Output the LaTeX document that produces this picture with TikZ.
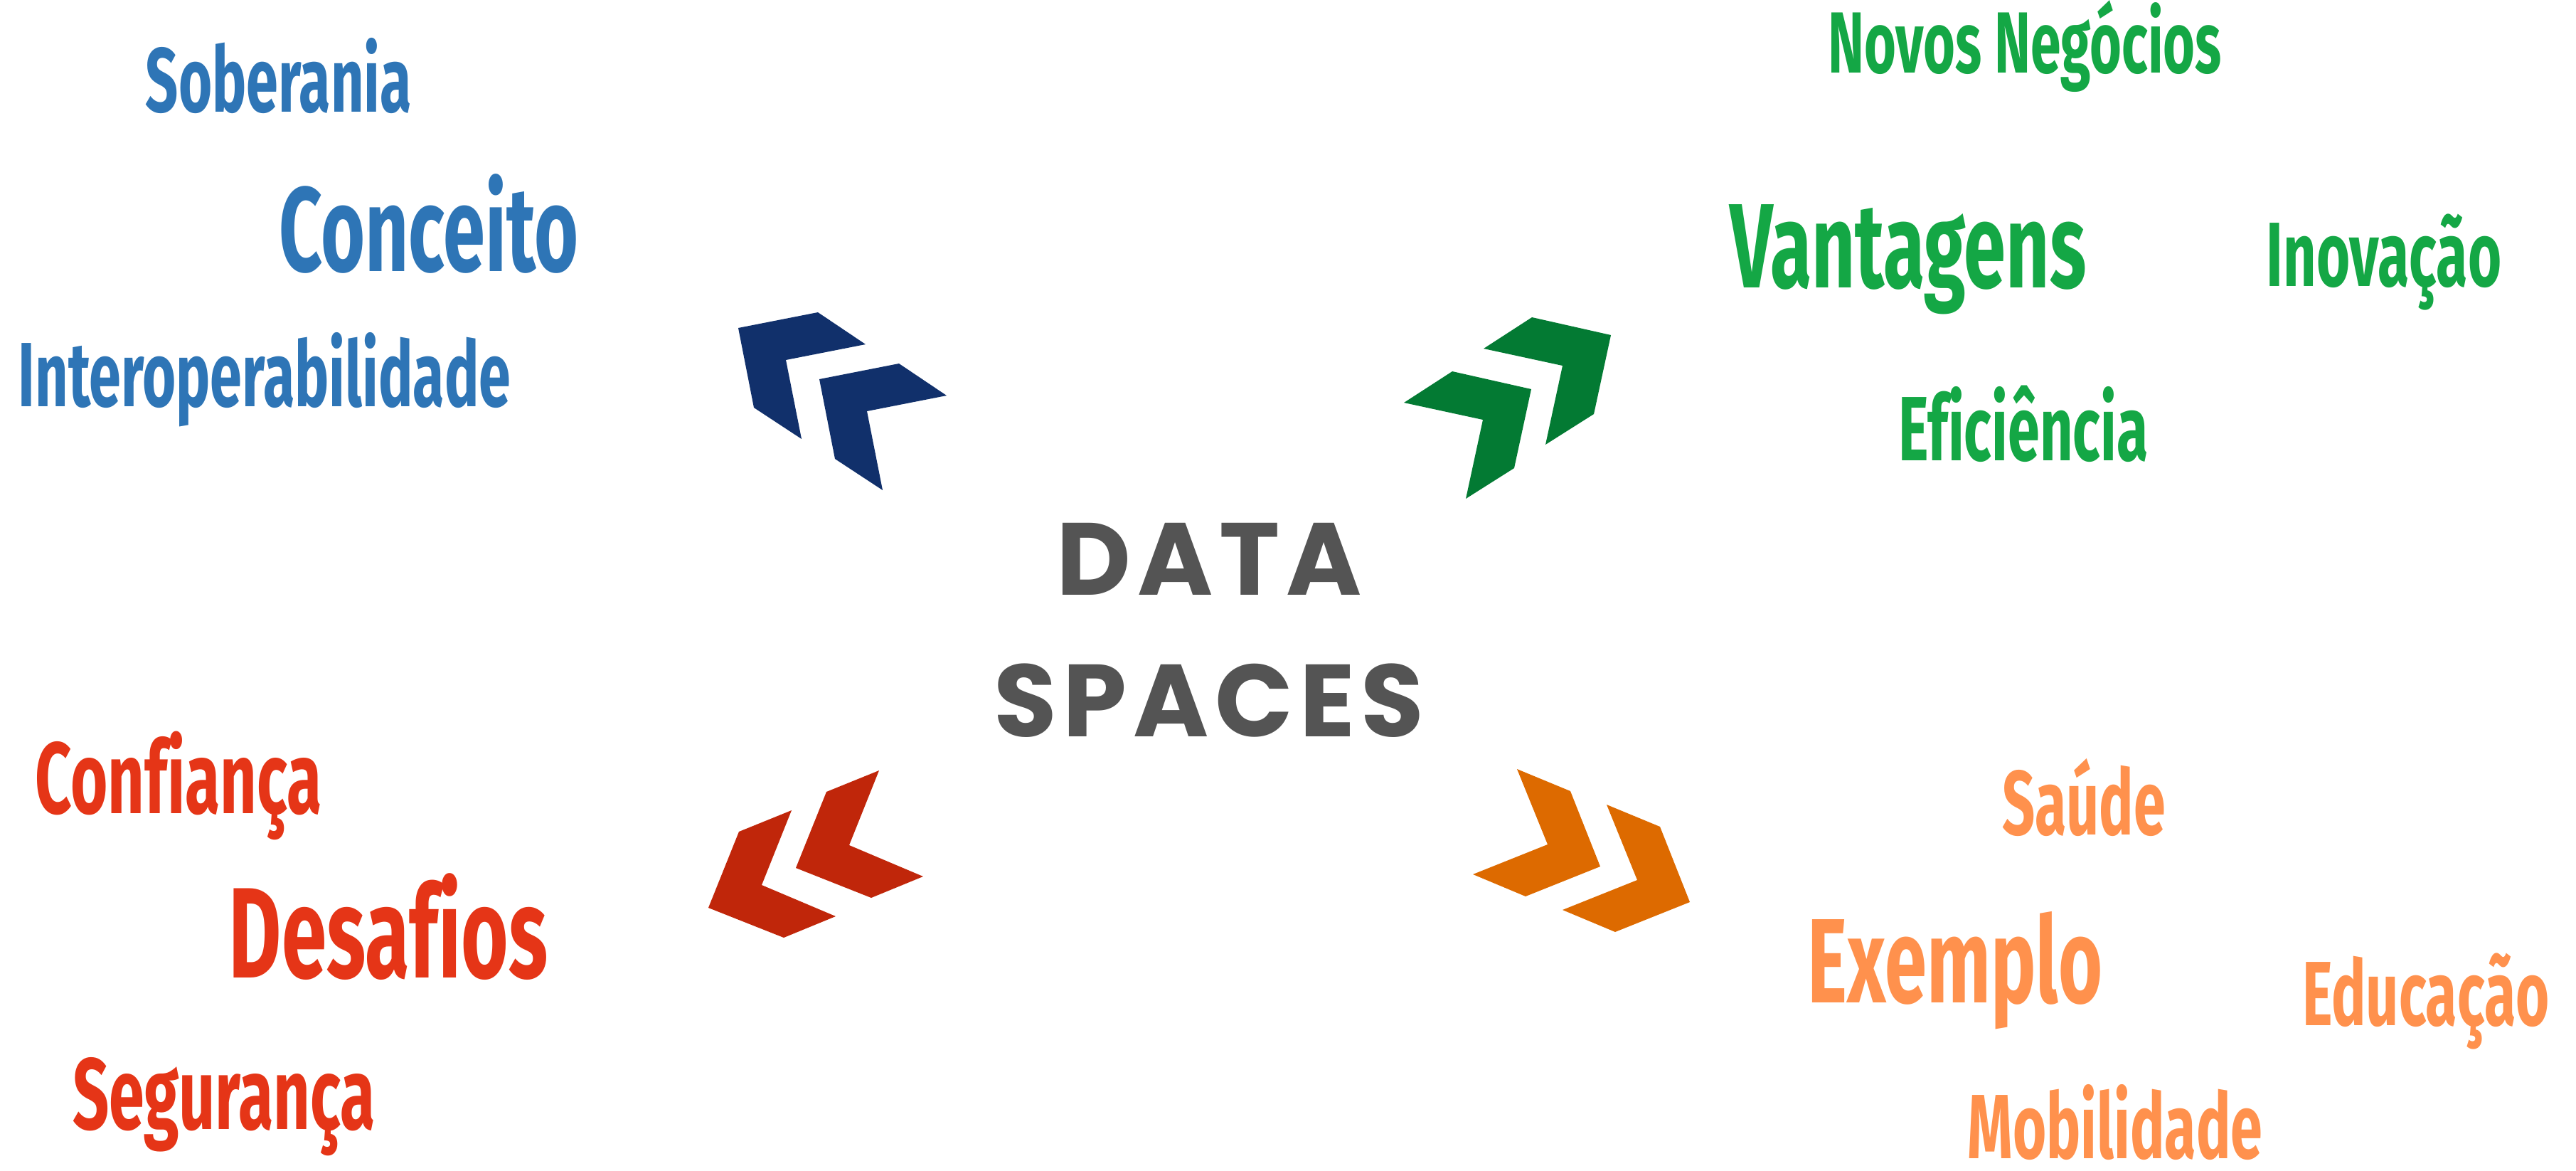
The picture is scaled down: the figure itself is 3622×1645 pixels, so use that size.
\documentclass[tikz,border=0pt]{standalone}
\usepackage{fontspec}
\newfontfamily\wordfont[FakeStretch=0.63,Ligatures=NoCommon]{Fira Sans}
\newfontfamily\titlefont[LetterSpace=6]{Poppins}
\definecolor{txtblue}{HTML}{2E75B6}
\definecolor{txtgreen}{HTML}{14A745}
\definecolor{txtred}{HTML}{E53517}
\definecolor{txtorange}{HTML}{FF914D}
\definecolor{chvblue}{HTML}{11306B}
\definecolor{chvgreen}{HTML}{037A33}
\definecolor{chvred}{HTML}{C0260A}
\definecolor{chvorange}{HTML}{DD6A00}
\definecolor{titlegray}{HTML}{545454}

\begin{document}
\begin{tikzpicture}[x=0.01cm,y=-0.01cm,
   word/.style={anchor=base,inner sep=0pt,font=\wordfont\bfseries\fontsize{36.5}{42}\selectfont},
   bigword/.style={word,font=\wordfont\bfseries\fontsize{48}{56}\selectfont},
   redword/.style={word,font=\wordfont\bfseries\fontsize{40.5}{46}\selectfont},
   title/.style={anchor=base,inner sep=0pt,text=titlegray,font=\titlefont\bfseries\fontsize{41}{48}\selectfont}]
   \useasboundingbox (0,0) rectangle (3622,1645);

   % centre
   \node[title] (data) at (1700,836) {DATA};
   \node[title] (spaces) at (1700,1035) {SPACES};

   % chevrons
   \foreach \d in {0,1} {
      \fill[chvblue,shift={(114*\d,72*\d)}] (1038,461) -- (1150,439) -- (1217,484) -- (1105,506) -- (1127,617) -- (1060,573) -- cycle;
      \fill[chvgreen,shift={(112*\d,-76*\d)}] (1974,566) -- (2042,522) -- (2153,547) -- (2129,658) -- (2061,701) -- (2085,590) -- cycle;
      \fill[chvred,shift={(123*\d,-56*\d)}] (996,1276) -- (1039,1169) -- (1113,1139) -- (1071,1244) -- (1175,1288) -- (1102,1318) -- cycle;
      \fill[chvorange,shift={(126*\d,50*\d)}] (2133,1081) -- (2208,1112) -- (2250,1218) -- (2145,1260) -- (2071,1229) -- (2176,1187) -- cycle;
   }

   % Conceito
   \node[word,text=txtblue] (soberania) at (392,157) {Soberania};
   \node[bigword,text=txtblue] (conceito) at (603,381) {Conceito};
   \node[word,text=txtblue] (interop) at (372,571) {Interoperabilidade};

   % Vantagens
   \node[word,text=txtgreen,font=\wordfont\bfseries\fontsize{34.7}{40}\selectfont] (negocios) at (2847,102) {Novos Negócios};
   \node[bigword,text=txtgreen] (vantagens) at (2683,404) {Vantagens};
   \node[word,text=txtgreen] (inovacao) at (3352,402) {Inovação};
   \node[word,text=txtgreen] (eficiencia) at (2845,647) {Eficiência};

   % Desafios
   \node[redword,text=txtred] (confianca) at (251,1143) {Confiança};
   \node[bigword,text=txtred,font=\wordfont\bfseries\fontsize{51.5}{60}\selectfont] (desafios) at (546,1374) {Desafios};
   \node[redword,text=txtred] (seguranca) at (315,1587) {Segurança};

   % Exemplo
   \node[word,text=txtorange] (saude) at (2930,1173) {Saúde};
   \node[bigword,text=txtorange] (exemplo) at (2749,1409) {Exemplo};
   \node[word,text=txtorange] (educacao) at (3411,1441) {Educação};
   \node[word,text=txtorange] (mobilidade) at (2974,1628) {Mobilidade};
\end{tikzpicture}
\end{document}
